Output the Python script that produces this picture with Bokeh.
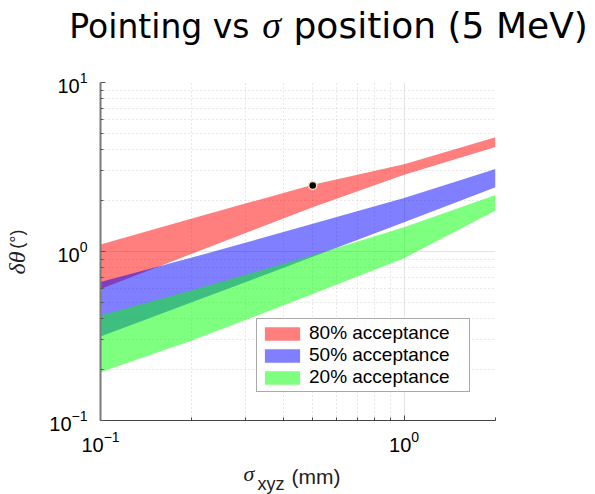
from bokeh.plotting import figure
from bokeh.layouts import column, row
from bokeh.models import (Range1d, FixedTicker, LogTickFormatter, Label, Legend, LegendItem)
from bokeh.embed import file_html
from bokeh.resources import INLINE

# ---- data ----
sigma = [0.1, 0.2, 0.5, 1.0, 2.0]
acc80_upper = [1.10, 1.57, 2.48, 3.28, 4.74]
acc80_lower = [0.60, 0.97, 1.83, 2.85, 4.15]
acc50_upper = [0.66, 0.92, 1.46, 2.07, 3.08]
acc50_lower = [0.314, 0.50, 0.93, 1.49, 2.40]
acc20_upper = [0.418, 0.59, 0.95, 1.39, 2.16]
acc20_lower = [0.193, 0.297, 0.56, 0.913, 1.75]
marker_x = [0.5]
marker_y = [2.46]
series_labels = ["80% acceptance", "50% acceptance", "20% acceptance"]
series_colors = ["#ff0000", "#0000ff", "#00ff00"]
x_major = [0.1, 1.0]
x_minor = [0.2, 0.3, 0.4, 0.5, 0.6, 0.7, 0.8, 0.9, 2.0]
y_major = [0.1, 1.0, 10.0]
y_minor = [0.2, 0.3, 0.4, 0.5, 0.6, 0.7, 0.8, 0.9, 2, 3, 4, 5, 6, 7, 8, 9]
title_parts = ["Pointing vs", "σ", "position (5 MeV)"]
ylabel_parts = ["δθ", "(°)"]
xlabel_parts = ["σ", "xyz", "(mm)"]

W, H = 595, 494

# ---- main plot ----
p = figure(x_axis_type="log", y_axis_type="log",
           x_range=Range1d(0.1, 2.0), y_range=Range1d(0.1, 10.0),
           frame_width=395, frame_height=338,
           min_border_left=100, min_border_right=100,
           min_border_top=82, min_border_bottom=74,
           toolbar_location=None, output_backend="svg")
p.outline_line_color = None
p.background_fill_color = "white"
p.border_fill_color = "white"

bands = [(acc80_upper, acc80_lower), (acc50_upper, acc50_lower), (acc20_upper, acc20_lower)]
items = []
for (up, lo), col, lb in zip(bands, series_colors, series_labels):
    r = p.patch(x=sigma + sigma[::-1], y=up + lo[::-1],
                fill_color=col, fill_alpha=0.5, line_color=None)
    items.append(LegendItem(label=lb, renderers=[r]))

p.scatter(marker_x, marker_y, size=8, fill_color="black",
          line_color="#f3e3ae", line_width=1.5)

xa = p.xaxis[0]
ya = p.yaxis[0]
xa.ticker = FixedTicker(ticks=x_major, minor_ticks=x_minor)
ya.ticker = FixedTicker(ticks=y_major, minor_ticks=y_minor)
for ax in (xa, ya):
    ax.formatter = LogTickFormatter()
    ax.major_label_text_font = "Liberation Sans"
    ax.major_label_text_font_size = "20px"
    ax.major_label_text_color = "black"
    ax.major_tick_in = 5
    ax.major_tick_out = 0
    ax.minor_tick_in = 3
    ax.minor_tick_out = 0
xa.axis_line_color = "#444444"
xa.major_tick_line_color = "#444444"
xa.minor_tick_line_color = "#444444"
xa.axis_line_width = 1
xa.major_label_standoff = 10
ya.axis_line_color = "#7a7a7a"
ya.major_tick_line_color = "#555555"
ya.minor_tick_line_color = "#555555"
ya.axis_line_width = 2
ya.major_label_standoff = 13

for g in (p.xgrid[0], p.ygrid[0]):
    g.grid_line_color = "#e3e3e3"
    g.grid_line_width = 1
    g.minor_grid_line_color = "#d0d0d0"
    g.minor_grid_line_dash = "1 3"
    g.minor_grid_line_width = 1

legend = Legend(items=items, location=(156, 28),
                border_line_color="#555555", border_line_width=1,
                background_fill_color="white", background_fill_alpha=1.0,
                padding=3, spacing=0, margin=0,
                glyph_width=44, glyph_height=17, label_standoff=5,
                label_width=157, label_height=17,
                label_text_font="Liberation Sans", label_text_font_size="19px",
                label_text_color="black")
p.add_layout(legend)

# ---- transparent overlay for texts outside the plotting frame ----
ov = figure(width=W, height=H, x_axis_location=None, y_axis_location=None,
            min_border=0, toolbar_location=None, output_backend="svg")
ov.outline_line_color = None
ov.grid.visible = False
ov.background_fill_alpha = 0
ov.border_fill_alpha = 0


def lab(x, y, text, font, size, align="left", style="normal", angle=0, color="black"):
    # x, y given in page pixels from the top-left corner
    ov.add_layout(Label(x=x, y=H - y, x_units="screen", y_units="screen", text=text,
                        text_align=align, text_baseline="middle",
                        text_font=font, text_font_size=size, text_font_style=style,
                        angle=angle, angle_units="deg", text_color=color))


# title
lab(249, 25.5, title_parts[0], "DejaVu Sans", "33px", align="right")
lab(271, 24.5, title_parts[1], "Liberation Serif", "38px", align="center", style="italic")
lab(293, 24.5, title_parts[2], "DejaVu Sans", "36px", align="left")

# y label
lab(16, 274, ylabel_parts[0], "Liberation Serif", "24px", align="left", style="italic",
    angle=90, color="#222222")
lab(16, 229, ylabel_parts[1], "Liberation Sans", "18px", align="right",
    angle=90, color="#222222")

# x label
lab(243, 473, xlabel_parts[0], "Liberation Serif", "22px", style="italic", color="#222222")
lab(257, 483, xlabel_parts[1], "Liberation Sans", "18px", color="#222222")
lab(291, 476, xlabel_parts[2], "Liberation Sans", "21px", color="#222222")

layout = column(p, row(ov, margin=(-H, 0, 0, 0)))
open("out.html", "w").write(file_html(layout, INLINE))
